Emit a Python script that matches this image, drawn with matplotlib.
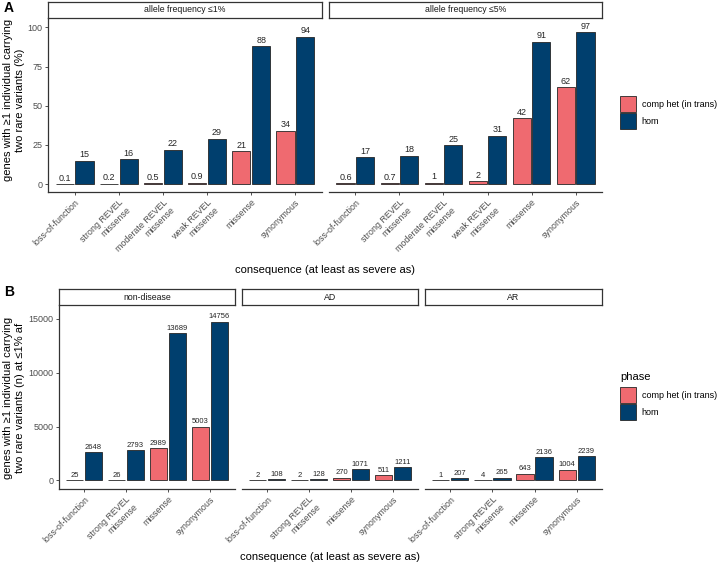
import matplotlib
matplotlib.use("Agg")
import matplotlib.pyplot as plt
from matplotlib.patches import Patch
import numpy as np

plt.rcParams['font.family'] = ['Liberation Sans', 'DejaVu Sans']

# ---- data -------------------------------------------------------------
cats_a = ['loss-of-function', 'strong REVEL\nmissense', 'moderate REVEL\nmissense',
          'weak REVEL\nmissense', 'missense', 'synonymous']
af1_comphet = [0.1, 0.2, 0.5, 0.9, 21, 34]
af1_hom = [15, 16, 22, 29, 88, 94]
af5_comphet = [0.6, 0.7, 1, 2, 42, 62]
af5_hom = [17, 18, 25, 31, 91, 97]
facets_a = ['allele frequency \u22641%', 'allele frequency \u22645%']

cats_b = ['loss-of-function', 'strong REVEL\nmissense', 'missense', 'synonymous']
nondis_comphet = [25, 26, 2989, 5003]
nondis_hom = [2648, 2793, 13689, 14756]
ad_comphet = [2, 2, 270, 511]
ad_hom = [108, 128, 1071, 1211]
ar_comphet = [1, 4, 643, 1004]
ar_hom = [207, 265, 2136, 2239]
facets_b = ['non-disease', 'AD', 'AR']

phases = ['comp het (in trans)', 'hom']
PINK = '#EF6A70'
NAVY = '#003F6E'
EDGE = '#262626'
GREY = '#4D4D4D'

W, H = 720, 563
fig = plt.figure(figsize=(W / 100, H / 100), dpi=100)


def px_axes(x0, y0, x1, y1):
    """axes from pixel box (top-left origin)"""
    return fig.add_axes([x0 / W, 1 - y1 / H, (x1 - x0) / W, (y1 - y0) / H])


def strip(x0, x1, y0, y1, label):
    s = px_axes(x0, y0, x1, y1)
    s.set_xticks([])
    s.set_yticks([])
    for sp in s.spines.values():
        sp.set_color('#333333')
        sp.set_linewidth(0.9)
    s.text(0.5, 0.5, label, ha='center', va='center', fontsize=6.3,
           color='#1A1A1A', transform=s.transAxes)


def fmt(v):
    return '{:g}'.format(v)


def panel(ax, cats, comphet, hom, ylim, yticks, show_y, lab_size):
    x = np.arange(len(cats))
    bw = 0.41
    b1 = ax.bar(x - 0.225, comphet, bw, color=PINK, edgecolor=EDGE, linewidth=0.6)
    b2 = ax.bar(x + 0.225, hom, bw, color=NAVY, edgecolor=EDGE, linewidth=0.6)
    for bars, vals in ((b1, comphet), (b2, hom)):
        for b, v in zip(bars, vals):
            ax.annotate(fmt(v), (b.get_x() + b.get_width() / 2, v),
                        xytext=(0, 1), textcoords='offset points',
                        ha='center', va='bottom', fontsize=lab_size, color='#262626')
    ax.set_xlim(-0.6, len(cats) - 0.4)
    ax.set_ylim(*ylim)
    ax.set_xticks(x)
    ax.set_xticklabels(cats, rotation=45, ha='right', va='top',
                       rotation_mode='anchor', fontsize=6.4, color=GREY)
    for sp in ['top', 'right']:
        ax.spines[sp].set_visible(False)
    ax.spines['bottom'].set_color('#333333')
    ax.spines['bottom'].set_linewidth(0.9)
    ax.tick_params(axis='both', length=2.5, width=0.6, colors='#333333',
                   labelcolor=GREY, pad=1.5)
    if show_y:
        ax.set_yticks(yticks)
        ax.set_yticklabels([str(t) for t in yticks], fontsize=6.5)
        ax.spines['left'].set_color('#333333')
        ax.spines['left'].set_linewidth(0.9)
    else:
        ax.set_yticks([])
        ax.spines['left'].set_visible(False)
    ax.patch.set_alpha(0)


handles = [Patch(facecolor=PINK, edgecolor=EDGE, linewidth=0.6),
           Patch(facecolor=NAVY, edgecolor=EDGE, linewidth=0.6)]
leg_kw = dict(loc='upper left', frameon=False, fontsize=6.5, handlelength=1.8,
              handleheight=2.3, labelspacing=0.15, handletextpad=0.6,
              borderaxespad=0, borderpad=0)

# ---- panel A ----------------------------------------------------------
a_boxes = [(48, 322), (329, 602)]
a_data = [(af1_comphet, af1_hom), (af5_comphet, af5_hom)]
for i, ((x0, x1), (c, h)) in enumerate(zip(a_boxes, a_data)):
    ax = px_axes(x0, 18, x1, 192)
    panel(ax, cats_a, c, h, (-5.05, 106), [0, 25, 50, 75, 100], i == 0, 6.5)
    strip(x0, x1, 2, 18, facets_a[i])

fig.text(14 / W, 1 - 100 / H, 'genes with \u22651 individual carrying\ntwo rare variants (%)',
         rotation=90, ha='center', va='center', fontsize=8, multialignment='center')
fig.text(325 / W, 1 - 270 / H, 'consequence (at least as severe as)',
         ha='center', va='center', fontsize=8)
fig.text(4 / W, 1 - 8 / H, 'A', fontsize=10, fontweight='bold', ha='left', va='center')

fig.legend(handles, phases, bbox_to_anchor=(620 / W, 1 - 96 / H), **leg_kw)

# ---- panel B ----------------------------------------------------------
b_boxes = [(59, 235), (242, 418), (425, 602)]
b_data = [(nondis_comphet, nondis_hom), (ad_comphet, ad_hom), (ar_comphet, ar_hom)]
for i, ((x0, x1), (c, h)) in enumerate(zip(b_boxes, b_data)):
    ax = px_axes(x0, 305, x1, 489)
    panel(ax, cats_b, c, h, (-790, 16290), [0, 5000, 10000, 15000], i == 0, 5.5)
    strip(x0, x1, 289, 305, facets_b[i])

fig.text(14 / W, 1 - 398 / H,
         'genes with \u22651 individual carrying\ntwo rare variants (n) at \u22641% af',
         rotation=90, ha='center', va='center', fontsize=8, multialignment='center')
fig.text(330 / W, 1 - 557 / H, 'consequence (at least as severe as)',
         ha='center', va='center', fontsize=8)
fig.text(4 / W, 1 - 292 / H, 'B', fontsize=10, fontweight='bold', ha='left', va='center')

fig.text(620 / W, 1 - 377 / H, 'phase', fontsize=8, ha='left', va='center')
fig.legend(handles, phases, bbox_to_anchor=(620 / W, 1 - 387 / H), **leg_kw)

fig.savefig('out.png', dpi=100)
